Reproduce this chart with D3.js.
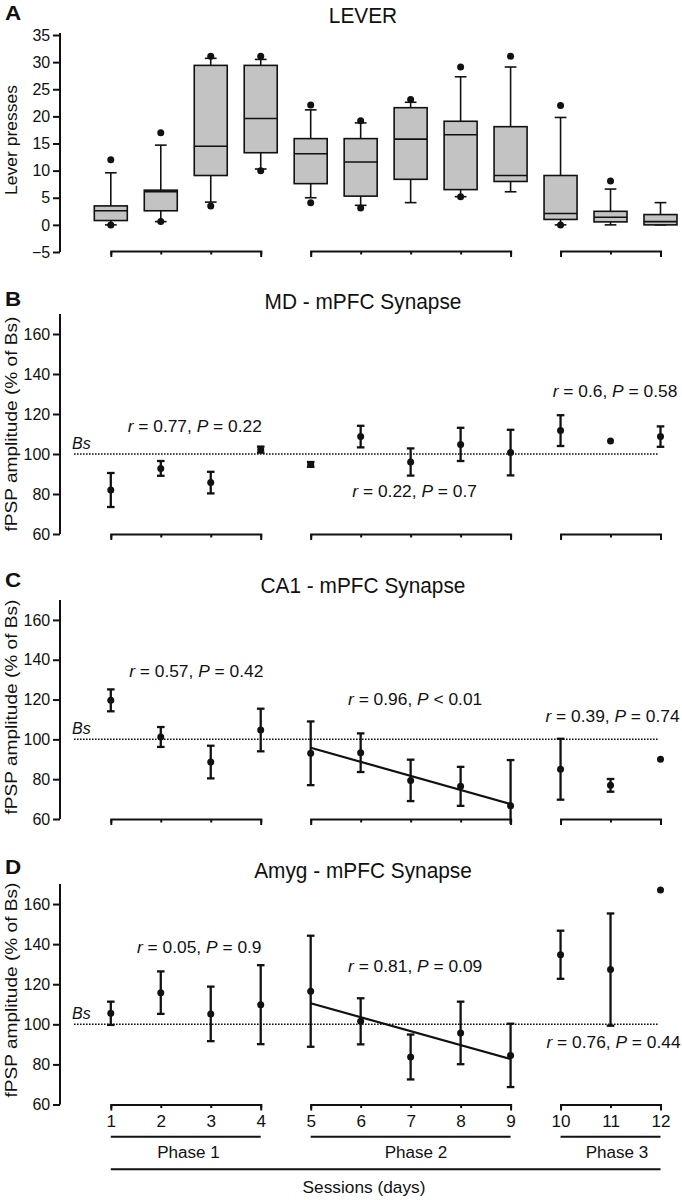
<!DOCTYPE html>
<html>
<head>
<meta charset="utf-8">
<script src="https://cdn.jsdelivr.net/npm/d3@7"></script>
<style>
  body { margin: 0; background: #fff; }
  text { font-family: "Liberation Sans", Arial, sans-serif; fill: #111; }
  .axis path, .axis line { stroke: #111; stroke-width: 2; fill: none; }
  .axis text { font-size: 16.3px; font-family: "Liberation Sans", Arial, sans-serif; fill: #111; }
  .box { fill: #c3c3c3; stroke: #111; stroke-width: 1.6; }
  .whisker, .median { stroke: #111; stroke-width: 1.6; }
  .err { stroke: #111; stroke-width: 2.3; }
  .dot { fill: #111; }
  .bs { stroke: #111; stroke-width: 1.5; stroke-dasharray: 1.6 1.4; }
  .fit { stroke: #111; stroke-width: 2.2; fill: none; }
  .rule { stroke: #111; stroke-width: 2; }
</style>
</head>
<body>
<svg id="chart" width="682" height="1200"></svg>
<script>

// sessions and phases
const sessions = d3.range(1, 13);
const phaseSpans = [[1, 4], [5, 9], [10, 12]];
const phaseLabels = ["Phase 1", "Phase 2", "Phase 3"];

// panel A - lever presses (box plots)
const leverMin    = [0,   0.6,  4.2, 10.3,  5.0,  3.6,  4.1,  5.2,  6.1,  0,    0,    0];
const leverQ1     = [0.8, 2.6,  9.1, 13.3,  7.6,  5.3,  8.4,  6.5,  8.0,  1.0,  0.55, 0];
const leverMedian = [2.6, 6.1, 14.5, 19.6, 13.1, 11.6, 15.8, 16.6,  9.1,  2.1,  1.4,  0.6];
const leverQ3     = [3.5, 6.4, 29.4, 29.4, 15.9, 15.9, 21.6, 19.1, 18.1,  9.1,  2.5,  1.9];
const leverMax    = [9.6, 14.7, 30.7, 30.5, 21.2, 18.8, 22.6, 27.3, 29.1, 19.8, 6.6,  4.1];
const leverOutHigh = [12, 17, 31.1, 31.1, 22.1, 19.2, 23.1, 29.1, 31.1, 22, 8.1, null];
const leverOutLow  = [0, 0.6, 3.5, 10, 4.1, 3.1, null, 5.2, null, 0, null, null];
const leverTicks = [-5, 0, 5, 10, 15, 20, 25, 30, 35];

// panels B-D - fPSP amplitude, mean and SEM
const mdMean   = [82, 92.8, 85.7, 102.2, 94.8, 108.7, 96, 104.8, 100.7, 111.7, 106.5, 108.7];
const mdSem    = [8.5, 3.7, 5.4, 1.5, 1.2, 5.4, 6.8, 8.3, 11.4, 7.7, 0, 5.1];
const ca1Mean  = [119.6, 101.2, 88.6, 104.7, 93, 93.3, 79.4, 76.4, 66.7, 85, 76.9, 90];
const ca1Sem   = [5.5, 5, 8.2, 10.7, 16, 9.7, 10.4, 9.8, 22.9, 15.3, 3.2, 0];
const amygMean = [105.5, 115.8, 105.2, 109.8, 116.5, 101.5, 83.7, 95.7, 84.5, 134.7, 127.3, 167];
const amygSem  = [5.8, 10.6, 13.6, 19.7, 27.7, 11.5, 11.2, 15.6, 15.8, 12, 28, 0];
const fpspTicks = [60, 80, 100, 120, 140, 160];

// regression lines over phase 2 (session, value)
const ca1Fit  = [[5, 95.8], [9, 67.5]];
const amygFit = [[5, 110.5], [9, 82.7]];

// correlation stats, anchored at (session, value)
const mdStats   = [{r: "0.77", op: "=", p: "0.22", s: 2.68, v: 111.2},
                   {r: "0.22", op: "=", p: "0.7",  s: 7.08, v: 78.7},
                   {r: "0.6",  op: "=", p: "0.58", s: 11.09, v: 128.7}];
const ca1Stats  = [{r: "0.57", op: "=", p: "0.42", s: 2.71, v: 131.5},
                   {r: "0.96", op: "<", p: "0.01", s: 7.09, v: 117.3},
                   {r: "0.39", op: "=", p: "0.74", s: 11.04, v: 108.9}];
const amygStats = [{r: "0.05", op: "=", p: "0.9",  s: 2.77, v: 135.8},
                   {r: "0.81", op: "=", p: "0.09", s: 7.09, v: 126.2},
                   {r: "0.76", op: "=", p: "0.44", s: 11.06, v: 88}];

const svg = d3.select("#chart");
svg.append("rect").attr("width", 682).attr("height", 1200).attr("fill", "#fff");

const xScale = d3.scaleLinear().domain([1, 12]).range([110.8, 660.5]);
const axisX = 60;
const wide = 1.1;   // the stats text runs a little wider than Liberation Sans

function put_text(x, y, str, size, sx, anchor) {
    return svg.append("text")
              .attr("transform", `translate(${x},${y}) scale(${sx},1)`)
              .attr("text-anchor", anchor || "start")
              .style("font-size", size + "px")
              .text(str);
}

function panel_header(letter, title, letterBase, titleBase) {
    put_text(5, letterBase, letter, 20, 1.12).style("font-weight", "bold");
    put_text(363, titleBase, title, 21.5, 0.97, "middle");
}

function y_label(label, cy, size, sx) {
    svg.append("text")
       .attr("transform", `translate(17,${cy}) rotate(-90) scale(${sx},1)`)
       .attr("text-anchor", "middle")
       .style("font-size", size + "px")
       .text(label);
}

function y_axis(yScale, ticks, top) {
    const g = svg.append("g")
       .attr("class", "axis")
       .attr("transform", `translate(${axisX},0)`)
       .call(d3.axisLeft(yScale).tickValues(ticks).tickSize(7).tickSizeOuter(0).tickPadding(3));
    g.select(".domain").attr("d", `M0,${yScale.range()[0]}V${top}`);
    g.selectAll("text").attr("transform", "scale(0.98,1)");
}

// phase brackets below each panel
function brackets(yPos, withLabels) {
    phaseSpans.forEach(span => {
        const sub = d3.scaleLinear().domain(span).range([xScale(span[0]), xScale(span[1])]);
        const g = svg.append("g")
           .attr("class", "axis")
           .attr("transform", `translate(0,${yPos})`)
           .call(d3.axisBottom(sub)
                   .tickValues(d3.range(span[0], span[1] + 1))
                   .tickSizeInner(3.5).tickSizeOuter(6).tickPadding(7)
                   .tickFormat(withLabels ? d3.format("d") : () => ""));
        g.selectAll("text").attr("transform", "scale(1.05,1)");
    });
}

function bs_line(yScale) {
    svg.append("line")
       .attr("class", "bs")
       .attr("x1", 74).attr("x2", 658)
       .attr("y1", yScale(100)).attr("y2", yScale(100));
    put_text(72, yScale(100) - 5, "Bs", 16, 1.0).style("font-style", "italic");
}

function stats_text(yScale, stats) {
    stats.forEach(d => {
        const t = put_text(xScale(d.s), yScale(d.v), "", 15.8, wide, "middle");
        t.append("tspan").style("font-style", "italic").text("r");
        t.append("tspan").text(` = ${d.r}, `);
        t.append("tspan").style("font-style", "italic").text("P");
        t.append("tspan").text(` ${d.op} ${d.p}`);
    });
}

function plot_means(yScale, means, sems) {
    const data = sessions.map((s, i) => [s, means[i], sems[i]]);
    const lo = yScale.domain()[0] - 2.5;   // bars are cut just under the axis
    const g = svg.append("g");

    g.selectAll(".err")
     .data(data.filter(d => d[2] > 0))
     .enter()
     .append("line")
     .attr("class", "err")
     .attr("x1", d => xScale(d[0])).attr("x2", d => xScale(d[0]))
     .attr("y1", d => yScale(d[1] + d[2]))
     .attr("y2", d => yScale(Math.max(d[1] - d[2], lo)));

    // caps
    g.selectAll(".cap")
     .data(data.filter(d => d[2] > 0).flatMap(d => {
         const caps = [[d[0], d[1] + d[2]]];
         if (d[1] - d[2] >= lo) caps.push([d[0], d[1] - d[2]]);
         return caps;
     }))
     .enter()
     .append("line")
     .attr("class", "err cap")
     .attr("x1", d => xScale(d[0]) - 3.8).attr("x2", d => xScale(d[0]) + 3.8)
     .attr("y1", d => yScale(d[1])).attr("y2", d => yScale(d[1]));

    g.selectAll(".dot")
     .data(data)
     .enter()
     .append("circle")
     .attr("class", "dot")
     .attr("cx", d => xScale(d[0]))
     .attr("cy", d => yScale(d[1]))
     .attr("r", 3.5);
}

function plot_fit(yScale, fit) {
    const line = d3.line().x(d => xScale(d[0])).y(d => yScale(d[1]));
    svg.append("path").attr("class", "fit").datum(fit).attr("d", line);
}

// ---------- panel A ----------
const yLever = d3.scaleLinear().domain([-5, 35]).range([252, 35]);
panel_header("A", "LEVER", 20, 23);
y_axis(yLever, leverTicks, 33);
y_label("Lever presses", 140, 16.5, 1.06);
brackets(251, false);

const boxW = 33, capW = 11.7;
const boxes = svg.append("g")
    .selectAll("g")
    .data(sessions.map((s, i) => ({s, min: leverMin[i], q1: leverQ1[i], med: leverMedian[i],
                                    q3: leverQ3[i], max: leverMax[i]})))
    .enter()
    .append("g");

boxes.append("line").attr("class", "whisker")
     .attr("x1", d => xScale(d.s)).attr("x2", d => xScale(d.s))
     .attr("y1", d => yLever(d.max)).attr("y2", d => yLever(d.min));
boxes.append("line").attr("class", "whisker")
     .attr("x1", d => xScale(d.s) - capW / 2).attr("x2", d => xScale(d.s) + capW / 2)
     .attr("y1", d => yLever(d.max)).attr("y2", d => yLever(d.max));
boxes.append("line").attr("class", "whisker")
     .attr("x1", d => xScale(d.s) - capW / 2).attr("x2", d => xScale(d.s) + capW / 2)
     .attr("y1", d => yLever(d.min)).attr("y2", d => yLever(d.min));
boxes.append("rect").attr("class", "box")
     .attr("x", d => xScale(d.s) - boxW / 2).attr("width", boxW)
     .attr("y", d => yLever(d.q3))
     .attr("height", d => yLever(d.q1) - yLever(d.q3));
boxes.append("line").attr("class", "median")
     .attr("x1", d => xScale(d.s) - boxW / 2).attr("x2", d => xScale(d.s) + boxW / 2)
     .attr("y1", d => yLever(d.med)).attr("y2", d => yLever(d.med));

const outliers = sessions.flatMap((s, i) => [[s, leverOutHigh[i]], [s, leverOutLow[i]]])
                         .filter(d => d[1] !== null);
svg.append("g").selectAll("circle")
   .data(outliers)
   .enter()
   .append("circle")
   .attr("class", "dot")
   .attr("cx", d => xScale(d[0])).attr("cy", d => yLever(d[1]))
   .attr("r", 3.5);

// ---------- panels B-D ----------
const panels = [
    {letter: "B", title: "MD - mPFC Synapse",   top: 314, base: 534,    lb: 306, tb: 308.5, ly: 424, mean: mdMean,   sem: mdSem,   stats: mdStats,   fit: null},
    {letter: "C", title: "CA1 - mPFC Synapse",  top: 600, base: 819,    lb: 587, tb: 592.5, ly: 707, mean: ca1Mean,  sem: ca1Sem,  stats: ca1Stats,  fit: ca1Fit},
    {letter: "D", title: "Amyg - mPFC Synapse", top: 884, base: 1104.5, lb: 874, tb: 877.5, ly: 990, mean: amygMean, sem: amygSem, stats: amygStats, fit: amygFit}
];

panels.forEach((p, k) => {
    const yScale = d3.scaleLinear().domain([60, 170]).range([p.base, p.top]);
    panel_header(p.letter, p.title, p.lb, p.tb);
    y_axis(yScale, fpspTicks, p.top);
    y_label("fPSP amplitude (% of Bs)", p.ly, 16.9, 1.13);
    brackets(p.base, k === 2);
    bs_line(yScale);
    if (p.fit) plot_fit(yScale, p.fit);
    plot_means(yScale, p.mean, p.sem);
    stats_text(yScale, p.stats);
});

// phase lines and session label
const phaseLabelX = [188.5, 416, 617];
phaseSpans.forEach((span, i) => {
    svg.append("line")
       .attr("class", "rule")
       .attr("x1", xScale(span[0])).attr("x2", xScale(span[1]))
       .attr("y1", 1136.7).attr("y2", 1136.7);
    put_text(phaseLabelX[i], 1157.7, phaseLabels[i], 15.8, 1.08, "middle");
});

svg.append("line")
   .attr("class", "rule")
   .attr("x1", xScale(1)).attr("x2", xScale(12))
   .attr("y1", 1169.3).attr("y2", 1169.3);
put_text(364, 1192.5, "Sessions (days)", 16, 1.08, "middle");

</script>
</body>
</html>
